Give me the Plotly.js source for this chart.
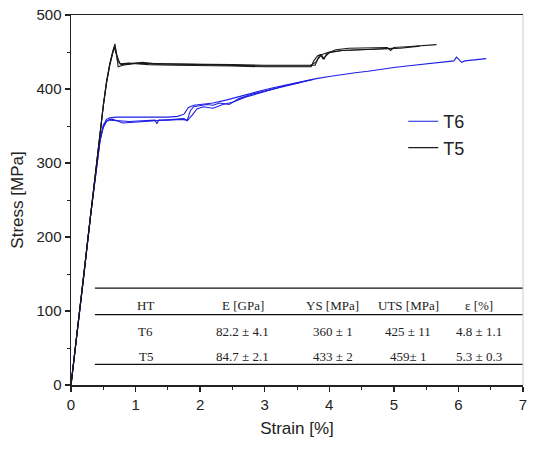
<!DOCTYPE html>
<html>
<head>
<meta charset="utf-8">
<script src="https://cdn.plot.ly/plotly-3.0.1.min.js"></script>
<style>html,body{margin:0;padding:0;background:#fff;}#chart{width:533px;height:449px;}</style>
</head>
<body>
<div id="chart"></div>
<script>
// ---- T6 specimens (strain %, stress MPa) ----
const t6a_x = [0, 0.1, 0.2, 0.3, 0.4, 0.45, 0.5, 0.55, 0.6, 0.7, 0.9, 1.1, 1.3, 1.5, 1.65, 1.75, 1.82, 1.9, 2.0, 2.2, 2.4, 2.6, 2.8, 3.0, 3.2, 3.4, 3.6, 3.8, 4.0, 4.2, 4.4, 4.6, 4.8, 5.0, 5.2, 5.4, 5.6, 5.8, 5.93, 5.97, 6.05, 6.1, 6.2, 6.3, 6.43];
const t6a_y = [0, 72, 150, 228, 303, 333, 351, 359, 361, 362, 362, 362, 361, 362, 363, 366, 375, 378, 379, 381, 385, 390, 395, 399, 403, 407, 411, 414, 417, 420, 422, 424, 427, 429, 431, 433, 435, 437, 438, 443, 436, 438, 439, 440, 441];
const t6b_x = [0, 0.1, 0.2, 0.3, 0.4, 0.45, 0.5, 0.55, 0.6, 0.7, 0.9, 1.1, 1.3, 1.33, 1.36, 1.5, 1.7, 1.8, 1.85, 1.9, 2.0, 2.1, 2.2, 2.3, 2.45, 2.6, 2.8, 3.0, 3.2, 3.4, 3.6, 3.75];
const t6b_y = [0, 70, 148, 226, 300, 330, 348, 356, 358, 357, 356, 357, 358, 353, 358, 358, 359, 358, 371, 376, 377, 379, 378, 381, 379, 387, 393, 397, 401, 406, 410, 413];
const t6c_x = [0, 0.1, 0.2, 0.3, 0.4, 0.45, 0.5, 0.55, 0.6, 0.65, 0.8, 1.0, 1.2, 1.4, 1.6, 1.75, 1.8, 1.88, 1.95, 2.05, 2.2, 2.35, 2.5, 2.7, 2.9, 3.1, 3.3, 3.55];
const t6c_y = [0, 71, 149, 227, 302, 331, 349, 357, 359, 359, 354, 355, 356, 358, 359, 360, 357, 365, 373, 376, 374, 379, 382, 389, 394, 399, 404, 409];
// ---- T5 specimens ----
const t5a_x = [0, 0.1, 0.2, 0.3, 0.4, 0.45, 0.5, 0.55, 0.6, 0.65, 0.68, 0.71, 0.73, 0.8, 1.0, 1.1, 1.3, 1.6, 2.0, 2.5, 3.0, 3.5, 3.78, 3.82, 3.88, 3.92, 3.96, 4.02, 4.1, 4.3, 4.6, 4.9, 4.95, 5.0, 5.2, 5.4, 5.66];
const t5a_y = [0, 76, 155, 234, 308, 345, 378, 410, 434, 452, 461, 445, 430, 432, 434, 436, 434, 434, 433, 433, 432, 432, 432, 440, 446, 440, 448, 450, 453, 455, 455, 456, 452, 456, 457, 458, 460];
const t5b_x = [0, 0.1, 0.2, 0.3, 0.4, 0.45, 0.5, 0.55, 0.6, 0.65, 0.67, 0.7, 0.76, 0.9, 1.2, 1.6, 2.0, 2.5, 3.0, 3.5, 3.72, 3.76, 3.82, 3.9, 4.0, 4.2, 4.5, 4.8, 5.1, 5.4];
const t5b_y = [0, 75, 154, 233, 307, 344, 377, 408, 432, 450, 456, 448, 434, 435, 433, 432, 432, 431, 430, 430, 430, 438, 445, 447, 450, 452, 453, 453, 455, 458];
const t5c_x = [0, 0.1, 0.2, 0.3, 0.4, 0.45, 0.5, 0.55, 0.6, 0.65, 0.68, 0.72, 0.78, 1.0, 1.4, 1.8, 2.2, 2.6, 3.0, 3.4, 3.7, 3.8, 3.86, 3.9, 4.0, 4.2, 4.6, 5.0];
const t5c_y = [0, 75, 155, 233, 308, 344, 377, 409, 433, 451, 458, 438, 433, 435, 434, 433, 433, 432, 431, 431, 431, 437, 447, 441, 449, 452, 454, 455];

const seriesNames = ['T6', 'T5'];
const seriesColors = ['#1e1ee6', '#1a1a1a'];

// ---- Table contents ----
const tableHeader = ['HT', 'E [GPa]', 'YS [MPa]', 'UTS [MPa]', 'ε [%]'];
const tableRows = [
  ['T6', '82.2 ± 4.1', '360 ± 1', '425 ± 11', '4.8 ± 1.1'],
  ['T5', '84.7 ± 2.1', '433 ± 2', '459± 1', '5.3 ± 0.3']
];
const tableColX = [1.16, 2.66, 4.05, 5.22, 6.32];   // column centres (strain units)
const tableRowY = [107, 72, 38];                    // header, T6, T5 (stress units)
const tableRuleY = [131, 95, 28];
const tableRuleX = [0.37, 7.0];

const blueSets = [[t6a_x, t6a_y], [t6b_x, t6b_y], [t6c_x, t6c_y]];
const blackSets = [[t5a_x, t5a_y], [t5b_x, t5b_y], [t5c_x, t5c_y]];

const traces = [];
blueSets.forEach((s, i) => traces.push({
  x: s[0], y: s[1], type: 'scatter', mode: 'lines',
  name: seriesNames[0], legendgroup: 'T6', showlegend: i === 0,
  line: {color: seriesColors[0], width: 1.1}
}));
blackSets.forEach((s, i) => traces.push({
  x: s[0], y: s[1], type: 'scatter', mode: 'lines',
  name: seriesNames[1], legendgroup: 'T5', showlegend: i === 0,
  line: {color: seriesColors[1], width: 1.1}
}));

const annotations = [];
const tfont = {family: 'Liberation Serif, Times New Roman, serif', size: 13, color: '#222'};
[tableHeader].concat(tableRows).forEach((row, r) => {
  row.forEach((txt, c) => annotations.push({
    x: tableColX[c], y: tableRowY[r], xref: 'x', yref: 'y', text: txt,
    showarrow: false, font: tfont, xanchor: 'center', yanchor: 'middle'
  }));
});
const shapes = tableRuleY.map(y => ({
  type: 'line', xref: 'x', yref: 'y', x0: tableRuleX[0], x1: tableRuleX[1], y0: y, y1: y,
  line: {color: '#111', width: 1.3}
}));
shapes.push({type: 'line', xref: 'paper', yref: 'paper', x0: 1, x1: 1, y0: 0, y1: 1,
  line: {color: '#cccccc', width: 1}});

const axisFont = {family: 'Liberation Sans, Arial, sans-serif', size: 15, color: '#222'};
const layout = {
  width: 533, height: 449,
  margin: {l: 71, r: 10, t: 15, b: 64},
  paper_bgcolor: '#fff', plot_bgcolor: '#fff',
  showlegend: true,
  legend: {x: 0.735, y: 0.762, xanchor: 'left', yanchor: 'top', bgcolor: 'rgba(0,0,0,0)',
    font: {family: 'Liberation Sans, Arial, sans-serif', size: 18, color: '#222'}, tracegroupgap: 0},
  xaxis: {
    range: [0, 7], dtick: 1, tick0: 0, showgrid: false, zeroline: false,
    showline: true, linecolor: '#222', linewidth: 1.5, mirror: true,
    ticks: 'outside', ticklen: 5, tickwidth: 1.5, tickcolor: '#222',
    minor: {dtick: 0.5, ticks: 'outside', ticklen: 3, tickwidth: 1, tickcolor: '#222'},
    tickfont: axisFont,
    title: {text: 'Strain [%]', font: {family: 'Liberation Sans, Arial, sans-serif', size: 17, color: '#222'}, standoff: 10}
  },
  yaxis: {
    range: [0, 500], dtick: 100, tick0: 0, showgrid: false, zeroline: false,
    showline: true, linecolor: '#222', linewidth: 1.5,
    ticks: 'outside', ticklen: 5, tickwidth: 1.5, tickcolor: '#222',
    minor: {dtick: 50, ticks: 'outside', ticklen: 3, tickwidth: 1, tickcolor: '#222'},
    tickfont: axisFont,
    title: {text: 'Stress [MPa]', font: {family: 'Liberation Sans, Arial, sans-serif', size: 17, color: '#222'}, standoff: 8}
  },
  annotations: annotations,
  shapes: shapes
};

Plotly.newPlot('chart', traces, layout, {displayModeBar: false, staticPlot: true});
</script>
</body>
</html>
